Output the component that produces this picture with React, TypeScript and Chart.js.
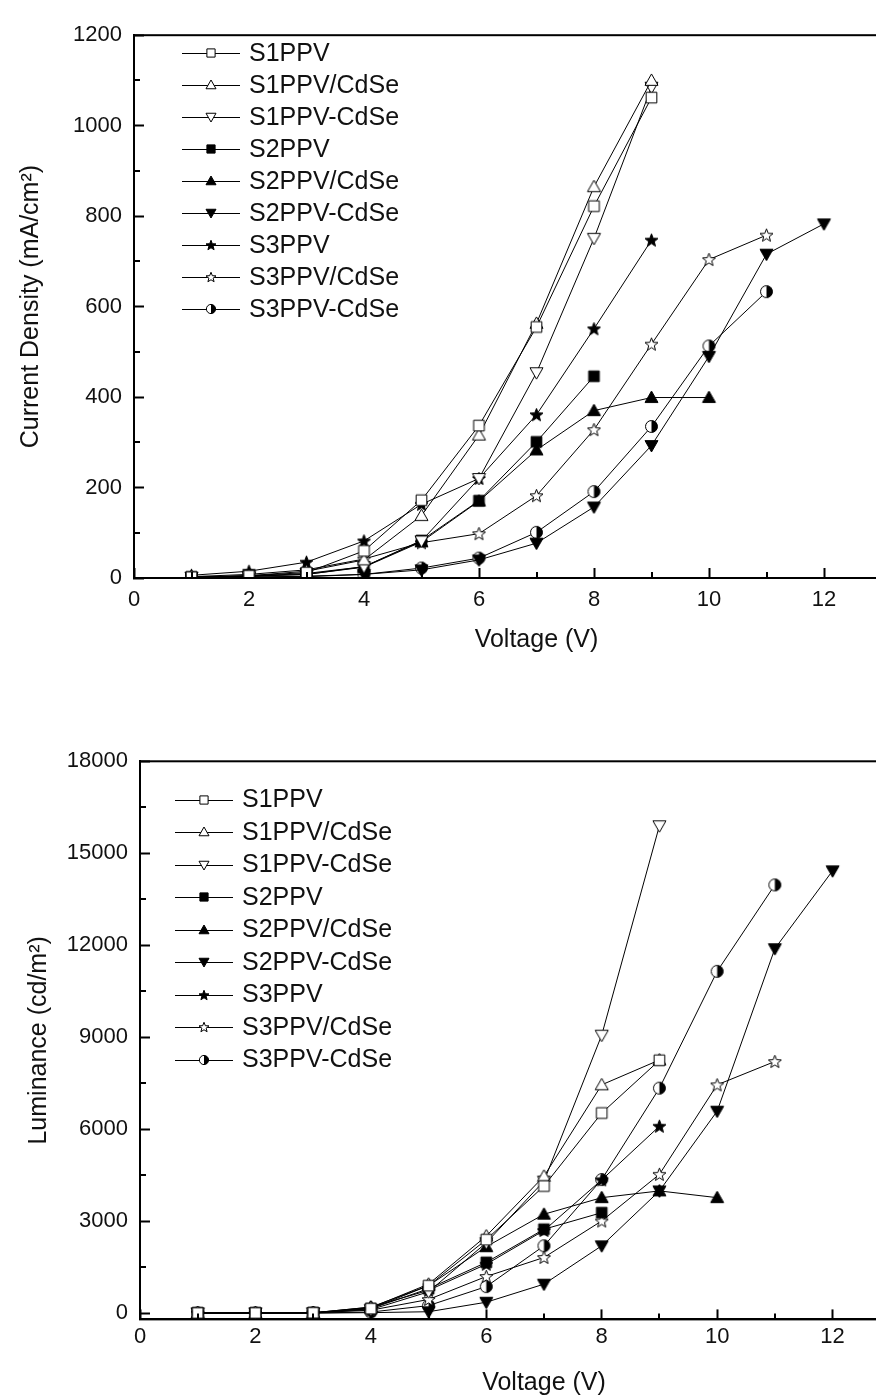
import React, { useEffect, useRef } from "react";
import { Chart, registerables } from "chart.js";

Chart.register(...registerables);
Chart.defaults.font.family = '"Liberation Sans", Arial, Helvetica, sans-serif';

// ---------------- data ----------------
const VOLTAGE = [1, 2, 3, 4, 5, 6, 7, 8, 9, 10, 11, 12];
const SERIES = ["S1PPV", "S1PPV/CdSe", "S1PPV-CdSe", "S2PPV", "S2PPV/CdSe", "S2PPV-CdSe", "S3PPV", "S3PPV/CdSe", "S3PPV-CdSe"];
const MARKERS = ["squareOpen", "triUpOpen", "triDownOpen", "squareFilled", "triUpFilled", "triDownFilled", "starFilled", "starOpen", "halfCircle"];

const X_TICKS = [0, 2, 4, 6, 8, 10, 12];
const J_TICKS = [0, 200, 400, 600, 800, 1000, 1200];
const L_TICKS = [0, 3000, 6000, 9000, 12000, 15000, 18000];

// Current density (mA/cm2), values from 1 V upward
const J_S1PPV = [2, 5, 12, 60, 172, 337, 555, 822, 1062];
const J_S1PPV_CDSE_A = [2, 5, 15, 40, 138, 316, 563, 865, 1100];
const J_S1PPV_CDSE_B = [2, 4, 10, 25, 82, 220, 454, 751, 1085];
const J_S2PPV = [2, 4, 8, 25, 83, 171, 301, 446];
const J_S2PPV_CDSE_A = [2, 4, 8, 24, 80, 170, 283, 370, 399, 399];
const J_S2PPV_CDSE_B = [1, 2, 4, 8, 18, 40, 77, 157, 293, 490, 716, 783];
const J_S3PPV = [6, 15, 35, 82, 163, 220, 361, 551, 747];
const J_S3PPV_CDSE_A = [3, 8, 18, 42, 78, 98, 182, 328, 517, 704, 758];
const J_S3PPV_CDSE_B = [1, 2, 3, 8, 22, 44, 101, 191, 335, 513, 633];

// Luminance (cd/m2), values from 1 V upward
const L_S1PPV = [10, 10, 15, 150, 900, 2400, 4150, 6530, 8250];
const L_S1PPV_CDSE_A = [10, 10, 15, 180, 950, 2520, 4470, 7450, 8260];
const L_S1PPV_CDSE_B = [10, 10, 15, 120, 700, 2300, 4310, 9070, 15900];
const L_S2PPV = [10, 10, 15, 150, 800, 1660, 2740, 3280];
const L_S2PPV_CDSE_A = [10, 10, 15, 200, 900, 2170, 3230, 3770, 3990, 3770];
const L_S2PPV_CDSE_B = [5, 5, 5, 20, 50, 360, 950, 2200, 3990, 6590, 11890, 14430];
const L_S3PPV = [10, 10, 15, 200, 750, 1600, 2700, 4350, 6100];
const L_S3PPV_CDSE_A = [10, 10, 15, 100, 450, 1200, 1820, 3010, 4530, 7450, 8210];
const L_S3PPV_CDSE_B = [5, 5, 10, 40, 250, 870, 2200, 4360, 7340, 11150, 13970];

const J_SERIES = [J_S1PPV, J_S1PPV_CDSE_A, J_S1PPV_CDSE_B, J_S2PPV, J_S2PPV_CDSE_A, J_S2PPV_CDSE_B, J_S3PPV, J_S3PPV_CDSE_A, J_S3PPV_CDSE_B];
const L_SERIES = [L_S1PPV, L_S1PPV_CDSE_A, L_S1PPV_CDSE_B, L_S2PPV, L_S2PPV_CDSE_A, L_S2PPV_CDSE_B, L_S3PPV, L_S3PPV_CDSE_A, L_S3PPV_CDSE_B];

// ---------------- panel layout ----------------
const TOP_PANEL = {
  top: 0, w: 950, h: 680,
  padTop: 23, padRight: 11, yWidth: 134, xHeight: 102,
  yMin: 0, yMax: 1200, yTicks: J_TICKS, series: J_SERIES,
  yTitle: "Current Density (mA/cm²)", yTitlePad: 16, xTitlePad: 25, xTickPad: 19,
  legend: { x0: 182, x1: 240, mx: 211, tx: 249, y0: 53.3, dy: 32 },
};
const BOTTOM_PANEL = {
  top: 700, w: 960, h: 720,
  padTop: 61.3, padRight: 12, yWidth: 140, xHeight: 100.6,
  yMin: -200, yMax: 18000, yTicks: L_TICKS, series: L_SERIES,
  yTitle: "Luminance (cd/m²)", yTitlePad: 24, xTitlePad: 22, xTickPad: 14,
  legend: { x0: 175, x1: 233, mx: 204, tx: 242, y0: 99.6, dy: 32.5 },
};

// ---------------- markers ----------------
function makeMarker(kind: string, size: number): HTMLCanvasElement {
  const W = Math.ceil(size) + 4;
  const c = document.createElement("canvas");
  c.width = W;
  c.height = W;
  const g = c.getContext("2d")!;
  const cx = W / 2, cy = W / 2, r = size / 2;
  g.lineWidth = 1;
  g.strokeStyle = "#000";
  const filled = kind.endsWith("Filled");
  g.fillStyle = filled ? "#000" : "#fff";
  if (kind === "halfCircle") {
    const rr = r * 0.92;
    g.beginPath(); g.arc(cx, cy, rr, 0, Math.PI * 2); g.fillStyle = "#fff"; g.fill();
    g.beginPath(); g.moveTo(cx, cy - rr); g.arc(cx, cy, rr, -Math.PI / 2, Math.PI / 2); g.closePath();
    g.fillStyle = "#000"; g.fill();
    g.beginPath(); g.arc(cx, cy, rr, 0, Math.PI * 2); g.stroke();
    return c;
  }
  g.beginPath();
  if (kind.startsWith("square")) {
    const h = r * 0.82;
    g.rect(cx - h, cy - h, 2 * h, 2 * h);
  } else if (kind.startsWith("triUp")) {
    g.moveTo(cx, cy - r); g.lineTo(cx + r, cy + r * 0.75); g.lineTo(cx - r, cy + r * 0.75); g.closePath();
  } else if (kind.startsWith("triDown")) {
    g.moveTo(cx, cy + r); g.lineTo(cx + r, cy - r * 0.75); g.lineTo(cx - r, cy - r * 0.75); g.closePath();
  } else if (kind.startsWith("star")) {
    for (let k = 0; k < 10; k++) {
      const a = -Math.PI / 2 + (k * Math.PI) / 5;
      const rr = k % 2 === 0 ? r * 1.05 : r * 0.45;
      const px = cx + rr * Math.cos(a), py = cy + 0.5 + rr * Math.sin(a);
      if (k === 0) g.moveTo(px, py); else g.lineTo(px, py);
    }
    g.closePath();
  }
  g.fill();
  g.stroke();
  return c;
}

// ---------------- plugins ----------------
const frameMinorPlugin = {
  id: "frameMinor",
  afterDraw(chart: any) {
    const { ctx, chartArea: a, scales } = chart;
    ctx.save();
    ctx.strokeStyle = "#000";
    ctx.lineWidth = 2;
    ctx.strokeRect(a.left, a.top, a.right - a.left, a.bottom - a.top);
    const minor = 6;
    const xs = scales.x, ys = scales.y;
    for (let i = 0; i < xs.ticks.length - 1; i++) {
      const v = (xs.ticks[i].value + xs.ticks[i + 1].value) / 2;
      const px = Math.round(xs.getPixelForValue(v));
      ctx.beginPath(); ctx.moveTo(px, a.bottom); ctx.lineTo(px, a.bottom - minor); ctx.stroke();
    }
    for (let i = 0; i < ys.ticks.length - 1; i++) {
      const v = (ys.ticks[i].value + ys.ticks[i + 1].value) / 2;
      const py = Math.round(ys.getPixelForValue(v));
      ctx.beginPath(); ctx.moveTo(a.left, py); ctx.lineTo(a.left + minor, py); ctx.stroke();
    }
    ctx.restore();
  },
};

function makeLegendPlugin(L: any, imgs: HTMLCanvasElement[]) {
  return {
    id: "insideLegend",
    afterDraw(chart: any) {
      const { ctx } = chart;
      ctx.save();
      chart.data.datasets.forEach((ds: any, i: number) => {
        const y = L.y0 + L.dy * i;
        const yl = Math.round(y) + 0.5;
        ctx.strokeStyle = "#000";
        ctx.lineWidth = 1;
        ctx.beginPath(); ctx.moveTo(L.x0, yl); ctx.lineTo(L.x1, yl); ctx.stroke();
        const img = imgs[i];
        ctx.drawImage(img, Math.round(L.mx - img.width / 2), Math.round(y - img.height / 2));
        ctx.fillStyle = "#111";
        ctx.font = '25px "Liberation Sans", Arial, sans-serif';
        ctx.textAlign = "left";
        ctx.textBaseline = "middle";
        ctx.fillText(ds.label, L.tx, y + 1);
      });
      ctx.restore();
    },
  };
}

function buildChart(canvas: HTMLCanvasElement, p: any) {
  const markerImgs = MARKERS.map((k) => makeMarker(k, 13));
  const legendImgs = MARKERS.map((k) => makeMarker(k, 10));
  const datasets = p.series.map((vals: number[], i: number) => ({
    label: SERIES[i],
    data: vals.map((v, j) => ({ x: VOLTAGE[j], y: v })),
    borderColor: "#000",
    backgroundColor: "#000",
    borderWidth: 1,
    pointStyle: markerImgs[i],
    pointRadius: 6,
    pointHoverRadius: 6,
    tension: 0,
    fill: false,
  }));
  const tickFont = { size: 22 };
  const titleFont = { size: 25 };
  return new Chart(canvas, {
    type: "line",
    data: { datasets },
    options: {
      animation: false,
      responsive: false,
      devicePixelRatio: 1,
      events: [],
      layout: { padding: { left: 0, top: p.padTop, right: p.padRight, bottom: 0 } },
      plugins: { legend: { display: false }, tooltip: { enabled: false } },
      scales: {
        x: {
          type: "linear",
          min: 0,
          max: 14,
          position: "bottom",
          afterBuildTicks: (s: any) => { s.ticks = X_TICKS.map((v) => ({ value: v })); },
          afterFit: (s: any) => { s.height = p.xHeight; },
          grid: { drawOnChartArea: false, drawTicks: true, tickLength: -10, tickWidth: 2, tickColor: "#000" },
          border: { display: true, width: 2, color: "#000" },
          ticks: { padding: p.xTickPad, font: tickFont, color: "#111", maxRotation: 0, autoSkip: false, callback: (v: any) => String(v) },
          title: { display: true, text: "Voltage (V)", font: titleFont, color: "#111", padding: { top: 0, bottom: p.xTitlePad } },
        },
        y: {
          type: "linear",
          min: p.yMin,
          max: p.yMax,
          position: "left",
          afterBuildTicks: (s: any) => { s.ticks = p.yTicks.map((v: number) => ({ value: v })); },
          afterFit: (s: any) => { s.width = p.yWidth; },
          grid: { drawOnChartArea: false, drawTicks: true, tickLength: -10, tickWidth: 2, tickColor: "#000" },
          border: { display: true, width: 2, color: "#000" },
          ticks: { padding: 22, font: tickFont, color: "#111", autoSkip: false, callback: (v: any) => String(v) },
          title: { display: true, text: p.yTitle, font: titleFont, color: "#111", padding: { top: p.yTitlePad, bottom: 0 } },
        },
      },
    } as any,
    plugins: [frameMinorPlugin, makeLegendPlugin(p.legend, legendImgs)],
  });
}

function Panel({ cfg }: { cfg: any }) {
  const ref = useRef<HTMLCanvasElement>(null);
  useEffect(() => {
    const chart = buildChart(ref.current!, cfg);
    return () => chart.destroy();
  }, [cfg]);
  return (
    <canvas
      ref={ref}
      width={cfg.w}
      height={cfg.h}
      style={{ position: "absolute", left: 0, top: cfg.top, width: cfg.w, height: cfg.h, display: "block" }}
    />
  );
}

export default function App() {
  return (
    <div style={{ position: "absolute", left: 0, top: 0, width: 876, height: 1396, overflow: "hidden", background: "#fff" }}>
      <Panel cfg={TOP_PANEL} />
      <Panel cfg={BOTTOM_PANEL} />
    </div>
  );
}
